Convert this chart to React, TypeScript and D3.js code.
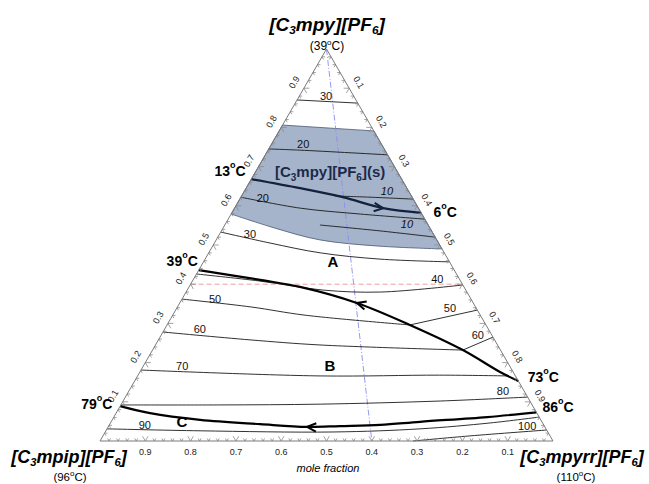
import * as d3 from 'd3';

// every point is [C3mpy fraction, C3mpyrr fraction]
type TP = [number, number];

const majorTicks = [0.1, 0.2, 0.3, 0.4, 0.5, 0.6, 0.7, 0.8, 0.9];
const minorTicks = d3.range(1, 50).map((i) => i / 50);

const solidTop: TP[] = [[0.806, 0], [0.791, 0.209]];
const solidBottom: TP[] = [[0.579, 0], [0.543, 0.115], [0.513, 0.229], [0.497, 0.369], [0.49, 0.51]];

const iso30Top: TP[] = [[0.87, 0], [0.862, 0.138]];
const iso20Upper: TP[] = [[0.745, 0], [0.742, 0.07], [0.73, 0.27]];
const iso10Upper: TP[] = [[0.625, 0.206], [0.622, 0.285], [0.617, 0.383]];
const iso20Lower: TP[] = [[0.622, 0], [0.594, 0.145], [0.579, 0.285], [0.566, 0.434]];
const iso10Lower: TP[] = [[0.551, 0.21], [0.536, 0.35], [0.52, 0.48]];
const iso30: TP[] = [[0.533, 0], [0.505, 0.123], [0.48, 0.246], [0.464, 0.386], [0.457, 0.543]];
const iso40: TP[] = [[0.426, 0], [0.408, 0.149], [0.385, 0.3], [0.38, 0.43], [0.398, 0.602]];
const iso50Left: TP[] = [[0.362, 0], [0.342, 0.162], [0.321, 0.292], [0.296, 0.536]];
const iso50Right: TP[] = [[0.296, 0.536], [0.334, 0.666]];
const iso60Left: TP[] = [[0.278, 0], [0.258, 0.202], [0.245, 0.363], [0.232, 0.685]];
const iso60Right: TP[] = [[0.232, 0.685], [0.265, 0.735]];
const iso70: TP[] = [[0.181, 0], [0.166, 0.403], [0.168, 0.666], [0.166, 0.818]];
const iso80: TP[] = [[0.092, 0], [0.092, 0.219], [0.094, 0.439], [0.102, 0.7], [0.112, 0.888]];
const iso90: TP[] = [[0.031, 0], [0.026, 0.208], [0.023, 0.503], [0.031, 0.691], [0.046, 0.838], [0.061, 0.939]];
const iso100: TP[] = [[0, 0.691], [0.013, 0.81], [0.028, 0.972]];

const valley13to6: TP[] = [[0.668, 0], [0.645, 0.119], [0.622, 0.225], [0.594, 0.328], [0.582, 0.418]];
const valley39to73: TP[] = [[0.436, 0], [0.411, 0.148], [0.393, 0.245], [0.352, 0.391], [0.296, 0.536], [0.232, 0.685], [0.176, 0.795], [0.153, 0.847]];
const valley79to86: TP[] = [[0.089, 0], [0.071, 0.075], [0.054, 0.194], [0.043, 0.332], [0.036, 0.439], [0.038, 0.511], [0.041, 0.598], [0.049, 0.682], [0.061, 0.824], [0.073, 0.927]];

const redLine: TP[] = [[0.4, 0], [0.4, 0.6]];
const blueLine: TP[] = [[1, 0], [0, 0.6]];

// [tip, toward]
const arrows: [TP, TP][] = [
  [[0.594, 0.328], [0.582, 0.418]],
  [[0.352, 0.391], [0.393, 0.245]],
  [[0.036, 0.439], [0.043, 0.332]],
];

// [mpy, mpyrr, text, italic]
const isoLabels: [number, number, string, boolean][] = [
  [0.878, 0.06, '30', false],
  [0.755, 0.071, '20', false],
  [0.635, 0.316, '10', true],
  [0.617, 0.051, '20', false],
  [0.551, 0.402, '10', true],
  [0.526, 0.068, '30', false],
  [0.411, 0.539, '40', false],
  [0.36, 0.074, '50', false],
  [0.337, 0.604, '50', false],
  [0.283, 0.079, '60', false],
  [0.268, 0.7, '60', false],
  [0.189, 0.087, '70', false],
  [0.125, 0.827, '80', false],
  [0.038, 0.08, '90', false],
  [0.036, 0.925, '100', false],
];

const regionLabels: [number, number, string][] = [
  [0.454, 0.287, 'A'],
  [0.189, 0.413, 'B'],
  [0.046, 0.158, 'C'],
];

const tempLabels: [number, number, string][] = [
  [0.686, -0.056, '13'],
  [0.582, 0.471, '6'],
  [0.457, -0.047, '39'],
  [0.161, 0.898, '73'],
  [0.092, -0.053, '79'],
  [0.084, 0.969, '86'],
];

const FONT = '"Liberation Sans", Arial, sans-serif';

const x = d3.scaleLinear().domain([0, 1]).range([100, 553]);
const y = d3.scaleLinear().domain([0, 1]).range([441, 49]);
const px = (p: TP): [number, number] => [x(p[1] + p[0] / 2), y(p[0])];

const smooth = d3
  .line<TP>()
  .x((p) => px(p)[0])
  .y((p) => px(p)[1])
  .curve(d3.curveCatmullRom.alpha(0.5));
const straight = d3
  .line<TP>()
  .x((p) => px(p)[0])
  .y((p) => px(p)[1]);

function arrowPath(tip: TP, toward: TP) {
  const [tx, ty] = px(tip);
  const [ox, oy] = px(toward);
  const len = Math.hypot(ox - tx, oy - ty);
  const dx = (ox - tx) / len;
  const dy = (oy - ty) / len;
  const a = (25 * Math.PI) / 180;
  const L = 10;
  const w1 = [tx - L * (dx * Math.cos(a) - dy * Math.sin(a)), ty - L * (dy * Math.cos(a) + dx * Math.sin(a))];
  const w2 = [tx - L * (dx * Math.cos(a) + dy * Math.sin(a)), ty - L * (dy * Math.cos(a) - dx * Math.sin(a))];
  return `M${w1[0]},${w1[1]}L${tx},${ty}L${w2[0]},${w2[1]}`;
}

function Deg({ x: lx, y: ly, t }: { x: number; y: number; t: string }) {
  return (
    <text x={lx} y={ly} textAnchor="middle" fontFamily={FONT} fontWeight="bold" fontSize={14} dominantBaseline="middle">
      {t}
      <tspan fontSize={9} dy={-6}>o</tspan>
      <tspan dy={6}>C</tspan>
    </text>
  );
}

function Salt({ x: lx, y: ly, cation, size }: { x: number; y: number; cation: string; size: number }) {
  const sub = size * 0.62;
  return (
    <text x={lx} y={ly} textAnchor="middle" fontFamily={FONT} fontWeight="bold" fontStyle="italic" fontSize={size}>
      [C<tspan fontSize={sub} dy={3}>3</tspan>
      <tspan dy={-3}>{cation}][PF</tspan>
      <tspan fontSize={sub} dy={3}>6</tspan>
      <tspan dy={-3}>]</tspan>
    </text>
  );
}

export default function App() {
  const corners: TP[] = [[0, 0], [0, 1], [1, 0]];
  const solidPath =
    straight(solidTop)! +
    'L' + px(solidBottom[solidBottom.length - 1]).join(',') +
    smooth([...solidBottom].reverse())!.replace(/^M/, 'L') +
    'Z';

  // tick "V"s: on each edge two short strokes running parallel to the other two edges
  const ticks: string[] = [];
  minorTicks.forEach((v) => {
    const major = Math.abs(v * 10 - Math.round(v * 10)) < 1e-6;
    const len = major ? 5.5 : 3;
    const b = px([0, 1 - v]);
    ticks.push(`M${b[0] - len * 0.5},${b[1] - len * 0.866}L${b[0]},${b[1]}L${b[0] + len * 0.5},${b[1] - len * 0.866}`);
    const l = px([v, 0]);
    ticks.push(`M${l[0] + len},${l[1]}L${l[0]},${l[1]}L${l[0] + len * 0.5},${l[1] + len * 0.866}`);
    const r = px([1 - v, v]);
    ticks.push(`M${r[0] - len},${r[1]}L${r[0]},${r[1]}L${r[0] - len * 0.5},${r[1] + len * 0.866}`);
  });

  const thin = { fill: 'none', stroke: '#1a1a1a', strokeWidth: 0.9 };
  const isoCurves = [iso20Upper, iso10Upper, iso20Lower, iso10Lower, iso30, iso40, iso50Left, iso60Left, iso70, iso80, iso90, iso100];
  const isoStraight = [iso30Top, iso50Right, iso60Right];

  return (
    <svg width={649} height={484} style={{ position: 'absolute', left: 0, top: 0, background: '#fff' }}>
      <path d={solidPath} fill="#a5b4ca" stroke="#4a5874" strokeWidth={0.8} />

      <path d={straight(blueLine)!} fill="none" stroke="#8a8cf0" strokeWidth={0.9} strokeDasharray="6,2,1,2" />
      <path d={straight(redLine)!} fill="none" stroke="#f0a0a0" strokeWidth={1} strokeDasharray="5,3" />

      {isoStraight.map((c, i) => (
        <path key={'s' + i} d={straight(c)!} {...thin} />
      ))}
      {isoCurves.map((c, i) => (
        <path key={'c' + i} d={smooth(c)!} {...thin} />
      ))}

      <path d={smooth(valley13to6)!} fill="none" stroke="#14213d" strokeWidth={2.4} />
      <path d={smooth(valley39to73)!} fill="none" stroke="#000" strokeWidth={2.2} />
      <path d={smooth(valley79to86)!} fill="none" stroke="#000" strokeWidth={2.2} />
      {arrows.map(([tip, toward], i) => (
        <path key={'a' + i} d={arrowPath(tip, toward)} fill="none" stroke={i === 0 ? '#14213d' : '#000'} strokeWidth={2} />
      ))}

      <path d={ticks.join('')} fill="none" stroke="#8a8a8a" strokeWidth={0.8} />
      <path d={straight(corners)! + 'Z'} fill="none" stroke="#7a7a7a" strokeWidth={1} />

      {majorTicks.map((v) => {
        const b = px([0, 1 - v]);
        const l = px([v, 0]);
        const r = px([1 - v, v]);
        return (
          <g key={v} fontFamily={FONT} fontSize={9} fill="#222">
            <text x={b[0]} y={b[1] + 14} textAnchor="middle">{v.toFixed(1)}</text>
            <text
              x={l[0] - 9}
              y={l[1] - 5.5}
              textAnchor="middle"
              dominantBaseline="middle"
              transform={`rotate(-60 ${l[0] - 9} ${l[1] - 5.5})`}
            >
              {v.toFixed(1)}
            </text>
            <text
              x={r[0] + 9}
              y={r[1] - 5.5}
              textAnchor="middle"
              dominantBaseline="middle"
              transform={`rotate(60 ${r[0] + 9} ${r[1] - 5.5})`}
            >
              {v.toFixed(1)}
            </text>
          </g>
        );
      })}

      {isoLabels.map(([t, r, s, it], i) => {
        const [lx, ly] = px([t, r]);
        return (
          <text key={'l' + i} x={lx} y={ly} textAnchor="middle" dominantBaseline="middle" fontFamily={FONT} fontSize={11} fontStyle={it ? 'italic' : 'normal'} fill="#111">
            {s}
          </text>
        );
      })}

      {regionLabels.map(([t, r, s]) => {
        const [lx, ly] = px([t, r]);
        return (
          <text key={s} x={lx} y={ly} textAnchor="middle" dominantBaseline="middle" fontFamily={FONT} fontWeight="bold" fontSize={15}>
            {s}
          </text>
        );
      })}

      {(() => {
        const [lx, ly] = px([0.686, 0.165]);
        return (
          <text x={lx} y={ly + 5} textAnchor="middle" fontFamily={FONT} fontWeight="bold" fontSize={15} fill="#1c2a4a">
            [C<tspan fontSize={10} dy={4}>3</tspan>
            <tspan dy={-4}>mpy][PF</tspan>
            <tspan fontSize={10} dy={4}>6</tspan>
            <tspan dy={-4}>](s)</tspan>
          </text>
        );
      })()}

      {tempLabels.map(([t, r, s]) => {
        const [lx, ly] = px([t, r]);
        return <Deg key={s} x={lx} y={ly} t={s} />;
      })}

      <Salt x={327} y={31} cation="mpy" size={19} />
      <text x={327} y={50} textAnchor="middle" fontFamily={FONT} fontSize={12}>
        (39<tspan fontSize={8} dy={-5}>o</tspan><tspan dy={5}>C)</tspan>
      </text>
      <Salt x={69} y={463} cation="mpip" size={18} />
      <text x={70} y={481} textAnchor="middle" fontFamily={FONT} fontSize={11.5}>
        (96<tspan fontSize={8} dy={-5}>o</tspan><tspan dy={5}>C)</tspan>
      </text>
      <Salt x={582} y={463} cation="mpyrr" size={18} />
      <text x={576} y={481} textAnchor="middle" fontFamily={FONT} fontSize={11.5}>
        (110<tspan fontSize={8} dy={-5}>o</tspan><tspan dy={5}>C)</tspan>
      </text>
      <text x={328} y={472} textAnchor="middle" fontFamily={FONT} fontStyle="italic" fontSize={11}>
        mole fraction
      </text>
    </svg>
  );
}
